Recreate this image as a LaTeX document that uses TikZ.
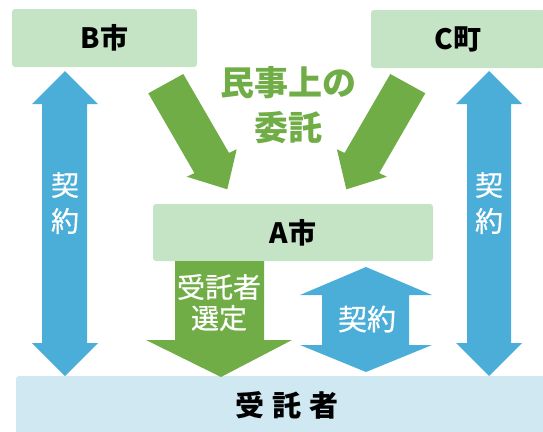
\documentclass[tikz,border=0pt]{standalone}
\usepackage{fontspec}
\setmainfont{Noto Sans CJK JP}
\newfontfamily\cjkw[FakeBold=0.6]{Noto Sans CJK JP}
\definecolor{boxgreen}{HTML}{C5E3C5}
\definecolor{boxblue}{HTML}{D0E8F2}
\definecolor{arrgreen}{HTML}{70AD47}
\definecolor{arrblue}{HTML}{4AAED8}
\tikzset{
  orgbox/.style={fill=boxgreen, rounded corners=3pt, inner sep=0pt, font=\fontsize{28}{28}\selectfont\bfseries, text=black},
  wlabel/.style={inner sep=0pt, text=white, font=\cjkw\fontsize{28}{28}\selectfont},
  gbarrow/.style={fill=arrgreen},
  blarrow/.style={fill=arrblue},
  titletext/.style={inner sep=0pt, text=arrgreen, font=\fontsize{34}{34}\selectfont\bfseries}
}
\begin{document}
\begin{tikzpicture}[x=1pt,y=-1pt]
\useasboundingbox (0,0) rectangle (543,431);
\clip (0,0) rectangle (543,431);
% boxes
\node[orgbox, minimum width=185pt, minimum height=58pt] (B) at (104.5,38) {B市};
\node[orgbox, minimum width=174pt, minimum height=58pt] (C) at (458,39) {C町};
\node[orgbox, minimum width=280pt, minimum height=57pt] (A) at (293,232.5) {A市};
\node[fill=boxblue, rounded corners=3pt, inner sep=0pt, minimum width=542pt, minimum height=62pt] (T) at (287,407) {};
\node[inner sep=0pt, font=\fontsize{29}{29}\selectfont\bfseries] (Tlabel) at (287,405) {受\hspace{8pt}託\hspace{8pt}者};
% left vertical double arrow
\fill[blarrow] (65,71) -- (98,104) -- (87,104) -- (87,343) -- (98,343) -- (65,376) -- (32,343) -- (42,343) -- (42,104) -- (32,104) -- cycle;
% right vertical double arrow
\fill[blarrow] (489,71) -- (522,104) -- (511,104) -- (511,343) -- (522,343) -- (489,376) -- (456,343) -- (467,343) -- (467,104) -- (456,104) -- cycle;
\node[wlabel] (L1) at (65,185) {契};
\node[wlabel] (L2) at (65,221) {約};
\node[wlabel] (R1) at (489,185) {契};
\node[wlabel] (R2) at (489,221) {約};
% diagonal arrows
\fill[gbarrow] (148.3,93.3) -- (183.3,74) -- (229,152.9) -- (236.7,149.3) -- (227.3,189.3) -- (186.7,176.7) -- (194.4,173.1) -- cycle;
\fill[gbarrow] (425.3,93.3) -- (390.3,74) -- (344.6,152.9) -- (336.9,149.3) -- (346.3,189.3) -- (386.9,176.7) -- (379.2,173.1) -- cycle;
\node[titletext] (M1) at (288,83) {民事上の};
\node[titletext] (M2) at (288,128) {委託};
% green down arrow
\fill[gbarrow] (175,261) -- (264,261) -- (264,340) -- (292,340) -- (221,377) -- (146,340) -- (175,340) -- cycle;
\node[wlabel] (S1) at (219,287) {受託者};
\node[wlabel] (S2) at (219,318) {選定};
% blue double arrow
\fill[blarrow] (366,267) -- (432,295) -- (409,295) -- (409,345) -- (432,345) -- (366,372) -- (300,345) -- (322,345) -- (322,295) -- (300,295) -- cycle;
\node[wlabel, font=\cjkw\fontsize{29}{29}\selectfont] (K) at (367,319) {契約};
\end{tikzpicture}
\end{document}
